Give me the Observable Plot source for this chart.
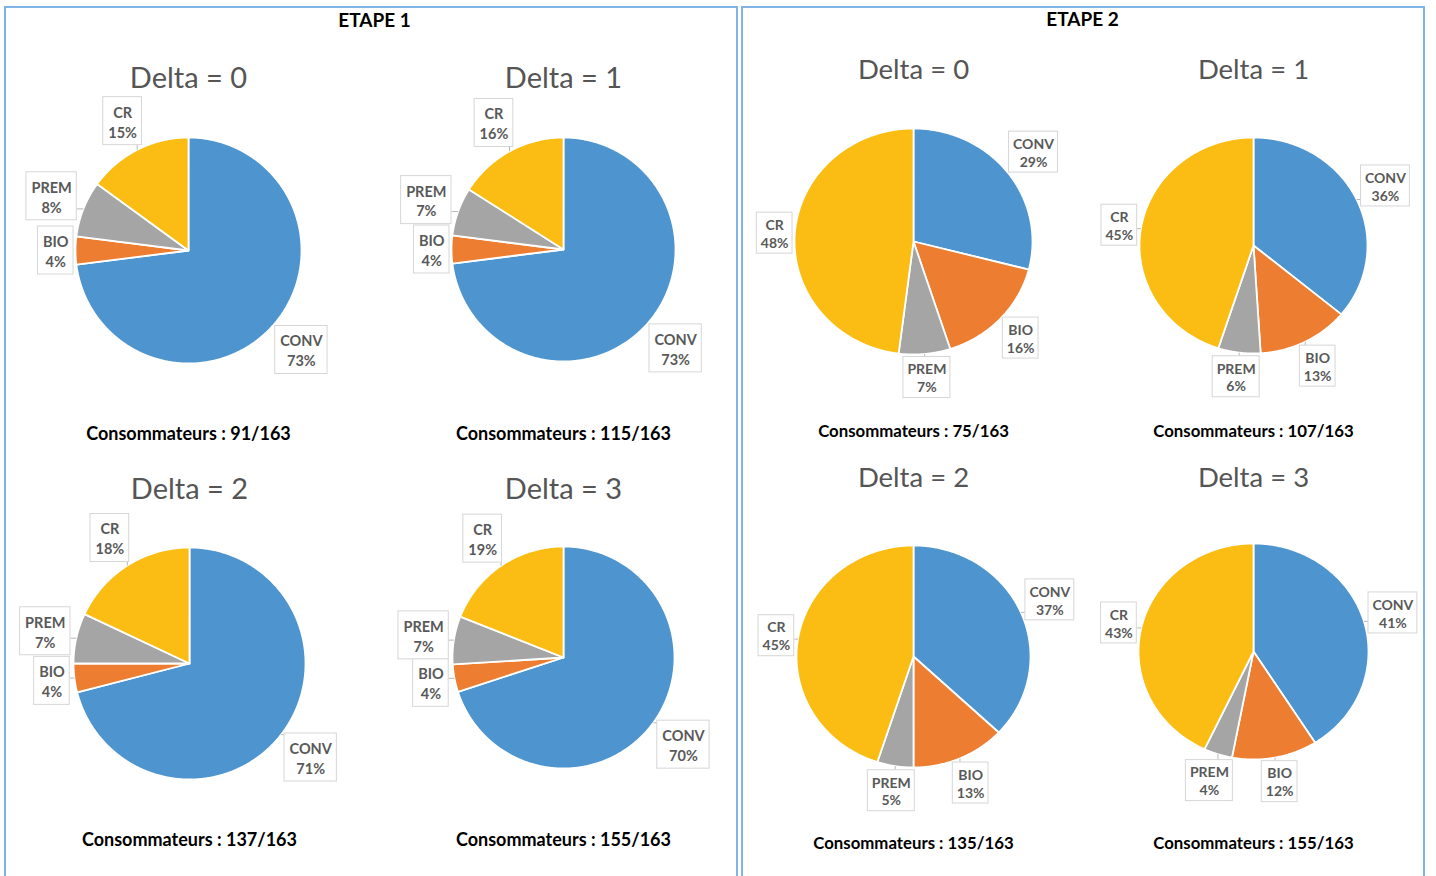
<!DOCTYPE html>
<html>
<head>
<meta charset="utf-8">
<script src="https://cdn.jsdelivr.net/npm/d3@7"></script>
<script src="https://cdn.jsdelivr.net/npm/@observablehq/plot@0.6"></script>
<style>
  body { margin: 0; background: #ffffff; }
  #chart svg { display: block; }
</style>
</head>
<body>
<div id="chart"></div>
<script>
// ---------------- DATA ----------------
const categories = ["CONV", "BIO", "PREM", "CR"];
const categoryColors = ["#4E95D0", "#ED7D31", "#A5A5A5", "#FBBD14"];
const etapes = ["ETAPE 1", "ETAPE 2"];
const deltas = [0, 1, 2, 3];
const etape1Shares = [[73, 4, 8, 15], [73, 4, 7, 16], [71, 4, 7, 18], [70, 4, 7, 19]];
const etape2Shares = [[29, 16, 7, 48], [36, 13, 6, 45], [37, 13, 5, 45], [41, 12, 4, 43]];
const etape1Consumers = [91, 115, 137, 155];
const etape2Consumers = [75, 107, 135, 155];
const totalConsumers = 163;

// ---------------- LAYOUT ----------------
const W = 1436, H = 876;
const panelLayout = [
  {x1: 5, x2: 737, y1: 7, y2: 882, titleX: 374, titleY: 20},
  {x1: 742, x2: 1424, y1: 7, y2: 882, titleX: 1082, titleY: 19}
];
const pieLayout = [
  [
    {cx: 188, cy: 250, rx: 113, ry: 113, titleY: 78, capY: 434},
    {cx: 563, cy: 249, rx: 112, ry: 112, titleY: 78, capY: 434},
    {cx: 189, cy: 663, rx: 116, ry: 116, titleY: 489, capY: 840},
    {cx: 563, cy: 657, rx: 111, ry: 111, titleY: 489, capY: 840}
  ],
  [
    {cx: 913, cy: 241, rx: 119, ry: 113, titleY: 70, capY: 431},
    {cx: 1253, cy: 245, rx: 114, ry: 108, titleY: 70, capY: 431},
    {cx: 913, cy: 656, rx: 117, ry: 111, titleY: 478, capY: 843},
    {cx: 1253, cy: 651, rx: 115, ry: 108, titleY: 478, capY: 843}
  ]
];
const labelStyle = [
  {fontSize: 14.5, lineH: 20, padX: 5, boxH: 48, gap: 2},
  {fontSize: 14, lineH: 18, padX: 4, boxH: 41, gap: 1}
];
const textStyle = [
  {titleSize: 29, captionSize: 18},
  {titleSize: 27.5, captionSize: 16.8}
];
const FONT = "Lato";

// ---------------- BUILD ----------------
const ctx = document.createElement("canvas").getContext("2d");
function textW(s, size) { ctx.font = `bold ${size}px ${FONT}`; return ctx.measureText(s).width; }

const slices = [], labels = [], leaders = [], titles = [], captions = [];
etapes.forEach((et, ei) => {
  const shares = ei === 0 ? etape1Shares : etape2Shares;
  const cons = ei === 0 ? etape1Consumers : etape2Consumers;
  const S = labelStyle[ei];
  deltas.forEach((d, di) => {
    const L = pieLayout[ei][di];
    titles.push({etape: ei, x: L.cx, y: L.titleY, text: `Delta = ${d}`});
    captions.push({etape: ei, x: L.cx, y: L.capY, text: `Consommateurs : ${cons[di]}/${totalConsumers}`});
    const arcs = d3.pie().sort(null).value(v => v)(shares[di]);
    arcs.forEach((a, k) => {
      const key = `${ei}-${di}-${k}`;
      const n = Math.max(2, Math.ceil((a.endAngle - a.startAngle) / (Math.PI / 360)));
      slices.push({key, cat: categories[k], x: L.cx, y: L.cy});
      for (let i = 0; i <= n; i++) {
        const t = a.startAngle + (a.endAngle - a.startAngle) * i / n;
        slices.push({key, cat: categories[k], x: L.cx + L.rx * Math.sin(t), y: L.cy - L.ry * Math.cos(t)});
      }
      const m = (a.startAngle + a.endAngle) / 2;
      const ux = Math.sin(m), uy = -Math.cos(m);
      const ex = L.cx + L.rx * ux, ey = L.cy + L.ry * uy;
      const pct = `${shares[di][k]}%`;
      const w = Math.max(textW(categories[k], S.fontSize), textW(pct, S.fontSize)) + 2 * S.padX;
      const h = S.boxH;
      const ext = (w / 2) * Math.abs(ux) + (h / 2) * Math.abs(uy);
      const lx = ex + ux * (S.gap + ext), ly = ey + uy * (S.gap + ext);
      const box = {etape: ei, x: lx, y: ly, x1: lx - w / 2, x2: lx + w / 2, y1: ly - h / 2, y2: ly + h / 2,
                   text: `${categories[k]}\n${pct}`};
      labels.push(box);
      const qx = Math.max(box.x1, Math.min(box.x2, ex)), qy = Math.max(box.y1, Math.min(box.y2, ey));
      if (Math.hypot(qx - ex, qy - ey) > 3) leaders.push({x1: ex, y1: ey, x2: qx, y2: qy});
    });
  });
});

const byEtape = (arr, ei) => arr.filter(d => d.etape === ei);

const chart = Plot.plot({
  width: W, height: H,
  margin: 0,
  style: {fontFamily: FONT, background: "#ffffff"},
  x: {domain: [0, W], range: [0, W], axis: null},
  y: {domain: [0, H], range: [0, H], axis: null},
  color: {domain: categories, range: categoryColors},
  marks: [
    Plot.rect(panelLayout, {x1: "x1", x2: "x2", y1: "y1", y2: "y2", fill: "none", stroke: "#80B3E6", strokeWidth: 2}),
    Plot.line(slices, {x: "x", y: "y", z: "key", fill: "cat", stroke: "white", strokeWidth: 1.8, strokeLinejoin: "round", curve: "linear-closed"}),
    Plot.link(leaders, {x1: "x1", y1: "y1", x2: "x2", y2: "y2", stroke: "#A6A6A6", strokeWidth: 0.8}),
    Plot.rect(labels, {x1: "x1", x2: "x2", y1: "y1", y2: "y2", fill: "white", stroke: "#D6D6D6", strokeWidth: 1}),
    ...[0, 1].flatMap(ei => [
      Plot.text(byEtape(labels, ei), {x: "x", y: "y", text: "text", fontSize: labelStyle[ei].fontSize, lineHeight: labelStyle[ei].lineH / labelStyle[ei].fontSize, fontWeight: "bold", fill: "#595959"}),
      Plot.text(byEtape(titles, ei), {x: "x", y: "y", text: "text", fontSize: textStyle[ei].titleSize, fill: "#555555"}),
      Plot.text(byEtape(captions, ei), {x: "x", y: "y", text: "text", fontSize: textStyle[ei].captionSize, fontWeight: "bold", fill: "#000000"})
    ]),
    Plot.text(panelLayout, {x: "titleX", y: "titleY", text: (d, i) => etapes[i], fontSize: 19, fontWeight: "bold", fill: "#000000"})
  ]
});
document.getElementById("chart").appendChild(chart);
</script>
</body>
</html>
